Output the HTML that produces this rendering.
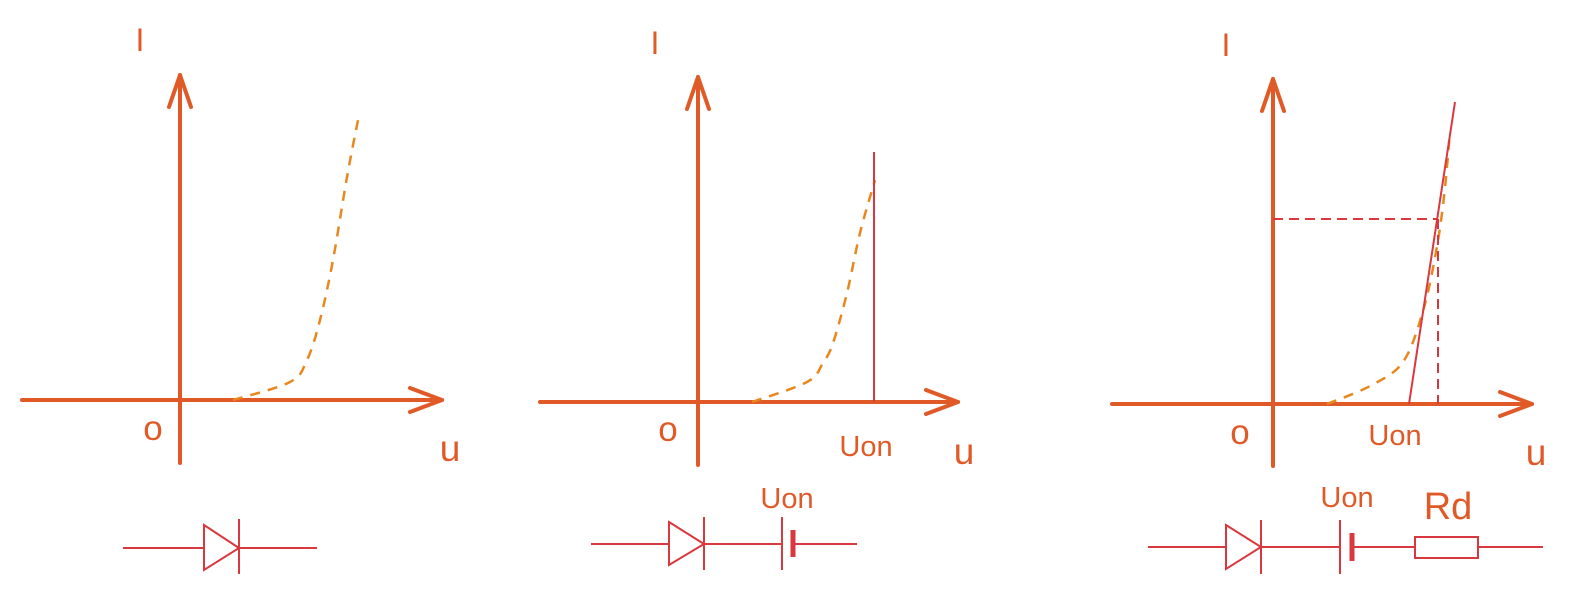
<!DOCTYPE html>
<html><head><meta charset="utf-8"><style>
html,body{margin:0;padding:0;background:#fff;width:1576px;height:610px;overflow:hidden}
svg{display:block}
text{font-family:"Liberation Sans",sans-serif}
</style></head><body>
<svg id="fig" width="1576" height="610" viewBox="0 0 1576 610">
<g id="static">
  <text x="140" y="51" font-size="32" fill="#E05A28" text-anchor="middle">I</text>
  <text x="153" y="440" font-size="35" fill="#E05A28" text-anchor="middle">o</text>
  <text x="450" y="461" font-size="37" fill="#E05A28" text-anchor="middle">u</text>

  <text x="655" y="54" font-size="32" fill="#E05A28" text-anchor="middle">I</text>
  <text x="668" y="441" font-size="35" fill="#E05A28" text-anchor="middle">o</text>
  <text x="866" y="456" font-size="29" fill="#E05A28" text-anchor="middle">Uon</text>
  <text x="964" y="464" font-size="37" fill="#E05A28" text-anchor="middle">u</text>
  <text x="787" y="508" font-size="29" fill="#E05A28" text-anchor="middle">Uon</text>

  <text x="1226" y="56" font-size="32" fill="#E05A28" text-anchor="middle">I</text>
  <text x="1240" y="444" font-size="35" fill="#E05A28" text-anchor="middle">o</text>
  <text x="1395" y="445" font-size="29" fill="#E05A28" text-anchor="middle">Uon</text>
  <text x="1536" y="465" font-size="37" fill="#E05A28" text-anchor="middle">u</text>
  <text x="1347" y="507" font-size="29" fill="#E05A28" text-anchor="middle">Uon</text>
  <text x="1448" y="519" font-size="38" fill="#E05A28" text-anchor="middle">Rd</text>

  <g stroke="#D9383F" stroke-width="2" fill="none">
    <line x1="123" y1="548" x2="204" y2="548"/>
    <polygon points="204,525 239,548 204,570"/>
    <line x1="239" y1="519" x2="239" y2="574"/>
    <line x1="239" y1="548" x2="317" y2="548"/>
  </g>
  <g stroke="#D9383F" stroke-width="2" fill="none">
    <line x1="591" y1="544" x2="669" y2="544"/>
    <polygon points="669,522 704,544 669,565"/>
    <line x1="704" y1="517" x2="704" y2="570"/>
    <line x1="704" y1="544" x2="782" y2="544"/>
    <line x1="782" y1="517" x2="782" y2="570"/>
    <line x1="793" y1="530" x2="793" y2="557" stroke-width="5"/>
    <line x1="793" y1="544" x2="857" y2="544"/>
  </g>
  <g stroke="#D9383F" stroke-width="2" fill="none">
    <line x1="1148" y1="547" x2="1226" y2="547"/>
    <polygon points="1226,525 1261,547 1226,569"/>
    <line x1="1261" y1="520" x2="1261" y2="574"/>
    <line x1="1261" y1="547" x2="1340" y2="547"/>
    <line x1="1340" y1="520" x2="1340" y2="574"/>
    <line x1="1352" y1="533" x2="1352" y2="561" stroke-width="5"/>
    <line x1="1352" y1="547" x2="1415" y2="547"/>
    <rect x="1415" y="537" width="63" height="21"/>
    <line x1="1478" y1="547" x2="1543" y2="547"/>
  </g>
</g>
<g id="plots"></g>
</svg>
<script>
// Characteristic curve data (u, I in chart units)
const leftCurveU = [5.3, 11, 12.7, 14, 15.3, 16.7, 17.8];
const leftCurveI = [0, 1.8, 4, 8, 14, 22.3, 28];
const midCurveU = [5.4, 10.9, 12.5, 13.5, 14.9, 16.2, 17.7];
const midCurveI = [0, 2, 3.9, 5.9, 10.9, 16.9, 22.2];
const midUon = [17.6];
const midUonTop = [25];
const rightCurveU = [5.4, 9.7, 13.0, 15.0, 16.3, 17.1, 17.7];
const rightCurveI = [0, 1.8, 4.2, 9.3, 15.2, 20.7, 27.2];
const rightLineU = [13.6, 18.2];
const rightLineI = [0, 30.2];
const rightOpU = [16.5];
const rightOpI = [18.5];

const NS = 'http://www.w3.org/2000/svg';
const plots = document.getElementById('plots');
function mk(tag, attrs, parent){
  const e = document.createElementNS(NS, tag);
  for (const k in attrs) e.setAttribute(k, attrs[k]);
  (parent || plots).appendChild(e);
  return e;
}
function makeAxes(x0, y0){ return { sx: u => x0 + u*10, sy: i => y0 - i*10 }; }
function smoothPath(xs, ys){
  let d = 'M' + xs[0] + ',' + ys[0];
  for (let i = 0; i < xs.length-1; i++){
    const x0 = xs[Math.max(i-1,0)], y0 = ys[Math.max(i-1,0)];
    const x1 = xs[i], y1 = ys[i], x2 = xs[i+1], y2 = ys[i+1];
    const x3 = xs[Math.min(i+2,xs.length-1)], y3 = ys[Math.min(i+2,ys.length-1)];
    const c1x = x1 + (x2-x0)/6, c1y = y1 + (y2-y0)/6;
    const c2x = x2 - (x3-x1)/6, c2y = y2 - (y3-y1)/6;
    d += ' C' + c1x + ',' + c1y + ' ' + c2x + ',' + c2y + ' ' + x2 + ',' + y2;
  }
  return d;
}
const AX = '#E05A28';
function drawAxes(prefix, x0, y0, xl, xr, yt, yb){
  const g = mk('g', {stroke: AX, 'stroke-width': 4, fill: 'none', 'stroke-linecap': 'round', 'stroke-linejoin': 'round'});
  
  
  const xa = mk('line', {x1: xl, y1: y0, x2: xr, y2: y0}, g);
  
  
  mk('polyline', {points: (xr-32)+','+(y0-12)+' '+xr+','+y0+' '+(xr-32)+','+(y0+12)}, g);
  const ya = mk('line', {x1: x0, y1: yt, x2: x0, y2: yb}, g);
  
  
  mk('polyline', {points: (x0-11)+','+(yt+32)+' '+x0+','+yt+' '+(x0+11)+','+(yt+32)}, g);
}
function drawCurve(prefix, ax, us, is){
  const p = mk('path', {d: smoothPath(us.map(ax.sx), is.map(ax.sy)), stroke: '#E8871E', 'stroke-width': 2.5, fill: 'none', 'stroke-dasharray': '10,8'});
  
  
}

drawAxes('left', 180, 400, 22, 442, 75, 463);
const axL = makeAxes(180, 400);
drawCurve('left', axL, leftCurveU, leftCurveI);

drawAxes('middle', 698, 402, 540, 958, 77, 465);
const axM = makeAxes(698, 402);
drawCurve('middle', axM, midCurveU, midCurveI);
const vl = mk('line', {x1: axM.sx(midUon[0]), y1: axM.sy(0), x2: axM.sx(midUon[0]), y2: axM.sy(midUonTop[0]), stroke: '#D9383F', 'stroke-width': 2});



drawAxes('right', 1273, 404, 1112, 1532, 79, 466);
const axR = makeAxes(1273, 404);
drawCurve('right', axR, rightCurveU, rightCurveI);
const rl = mk('line', {x1: axR.sx(rightLineU[0]), y1: axR.sy(rightLineI[0]), x2: axR.sx(rightLineU[1]), y2: axR.sy(rightLineI[1]), stroke: '#D9383F', 'stroke-width': 2});


const hd = mk('line', {x1: axR.sx(0), y1: axR.sy(rightOpI[0]), x2: axR.sx(rightOpU[0]), y2: axR.sy(rightOpI[0]), stroke: '#D9383F', 'stroke-width': 2, 'stroke-dasharray': '10,6'});


const vd = mk('line', {x1: axR.sx(rightOpU[0]), y1: axR.sy(rightOpI[0]), x2: axR.sx(rightOpU[0]), y2: axR.sy(0), stroke: '#D9383F', 'stroke-width': 2, 'stroke-dasharray': '10,6'});


</script>
</body></html>
